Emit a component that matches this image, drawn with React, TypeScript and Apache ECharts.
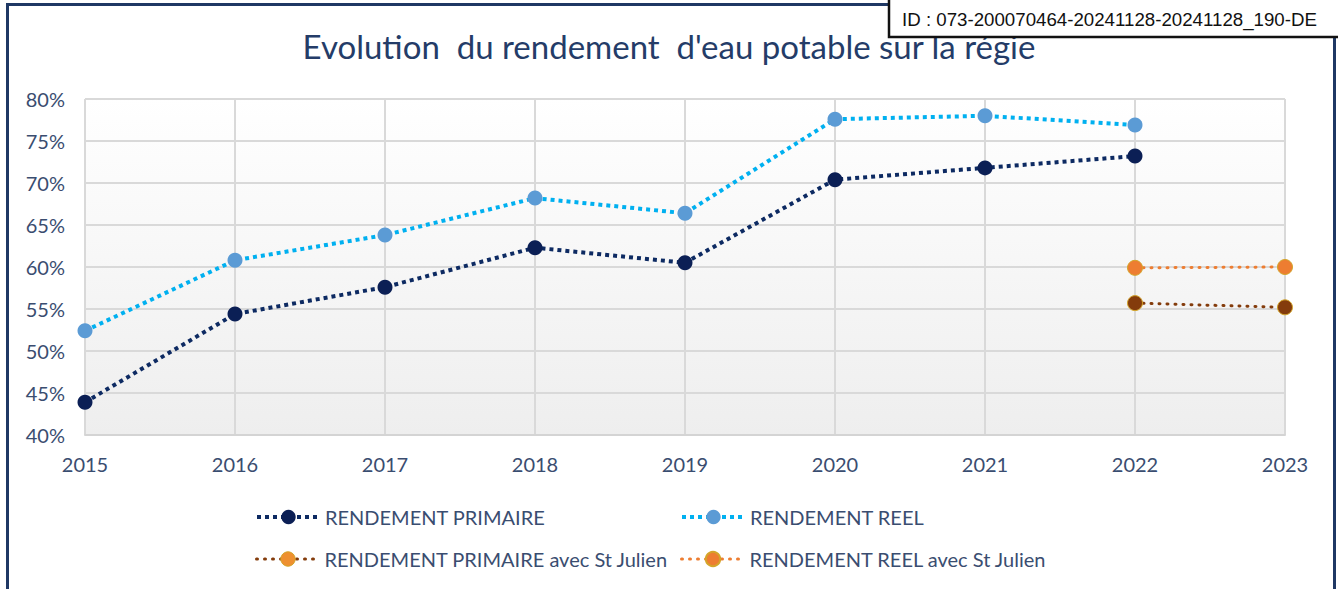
import React, { useEffect, useRef } from "react";
import * as echarts from "echarts";

const years = ["2015", "2016", "2017", "2018", "2019", "2020", "2021", "2022", "2023"];
const rendementPrimaire = [43.9, 54.4, 57.6, 62.3, 60.5, 70.4, 71.8, 73.2, null];
const rendementReel = [52.4, 60.8, 63.8, 68.2, 66.4, 77.6, 78.0, 76.9, null];
const primaireStJulien = [null, null, null, null, null, null, null, 55.7, 55.2];
const reelStJulien = [null, null, null, null, null, null, null, 59.9, 60.0];
const seriesNames = [
  "RENDEMENT PRIMAIRE",
  "RENDEMENT REEL",
  "RENDEMENT PRIMAIRE avec St Julien",
  "RENDEMENT REEL avec St Julien",
];
const titleText = "Evolution  du rendement  d'eau potable sur la régie";
const idText = "ID : 073-200070464-20241128-20241128_190-DE";

const FONT = "Lato, 'Open Sans', sans-serif";
const TXT = "#3a4d70";

export default function App() {
  const ref = useRef<HTMLDivElement>(null);
  useEffect(() => {
    document.body.style.margin = "0";
    const chart = echarts.init(ref.current!, null, { renderer: "svg" });
    const legendBase = {
      itemWidth: 63,
      itemHeight: 18,
      itemGap: 8,
      padding: 0,
      textStyle: { color: TXT, fontSize: 20, fontFamily: FONT },
    };
    const squareDots = { width: 4, type: [4, 4] };
    const roundDots = { width: 3, type: [1, 7], cap: "round" };
    chart.setOption({
      animation: false,
      backgroundColor: "#ffffff",
      title: {
        text: titleText,
        left: "center",
        top: 24,
        textStyle: { color: "#243c68", fontSize: 33, fontWeight: "normal", fontFamily: FONT },
      },
      legend: [
        { ...legendBase, left: 255, top: 507, lineStyle: squareDots, data: [seriesNames[0]] },
        { ...legendBase, left: 680, top: 507, lineStyle: squareDots, data: [seriesNames[1]] },
        {
          ...legendBase,
          left: 255,
          top: 549,
          lineStyle: roundDots,
          data: [{ name: seriesNames[2], itemStyle: { color: "#ee9030", borderColor: "#d4a52a", borderWidth: 1 } }],
        },
        { ...legendBase, left: 680, top: 549, lineStyle: roundDots, data: [seriesNames[3]] },
      ],
      grid: {
        left: 85,
        right: 53,
        top: 99,
        bottom: 154,
        show: true,
        borderWidth: 0,
        backgroundColor: new echarts.graphic.LinearGradient(0, 0, 0, 1, [
          { offset: 0, color: "#ffffff" },
          { offset: 1, color: "#eeeeee" },
        ]),
      },
      xAxis: {
        type: "category",
        data: years,
        boundaryGap: false,
        axisLine: { show: true, lineStyle: { color: "#d4d4d4", width: 2 } },
        axisTick: { show: false },
        axisLabel: { color: TXT, fontSize: 20, fontFamily: FONT, margin: 19 },
        splitLine: { show: true, lineStyle: { color: "#d9d9d9", width: 2 } },
      },
      yAxis: {
        type: "value",
        min: 40,
        max: 80,
        interval: 5,
        axisLine: { show: false },
        axisTick: { show: false },
        axisLabel: { color: TXT, fontSize: 20, fontFamily: FONT, margin: 20, formatter: "{value}%" },
        splitLine: { show: true, lineStyle: { color: "#d9d9d9", width: 2 } },
      },
      series: [
        {
          name: seriesNames[0],
          type: "line",
          data: rendementPrimaire,
          symbol: "circle",
          symbolSize: 15,
          itemStyle: { color: "#0b1f55" },
          lineStyle: { color: "#0d2a62", width: 4, type: [4, 4] },
        },
        {
          name: seriesNames[1],
          type: "line",
          data: rendementReel,
          symbol: "circle",
          symbolSize: 15,
          itemStyle: { color: "#5b9bd5" },
          lineStyle: { color: "#00b0f0", width: 4, type: [4, 4] },
        },
        {
          name: seriesNames[2],
          type: "line",
          data: primaireStJulien,
          symbol: "circle",
          symbolSize: 15,
          itemStyle: { color: "#843c0c", borderColor: "#d4a52a", borderWidth: 1 },
          lineStyle: { color: "#843c0c", width: 3, type: [1, 7], cap: "round" },
        },
        {
          name: seriesNames[3],
          type: "line",
          data: reelStJulien,
          symbol: "circle",
          symbolSize: 15,
          itemStyle: { color: "#ed7d31", borderColor: "#d4a52a", borderWidth: 1 },
          lineStyle: { color: "#ed7d31", width: 3, type: [1, 7], cap: "round" },
        },
      ],
      graphic: [
        {
          type: "rect",
          z: 100,
          shape: { x: 7.5, y: 4.5, width: 1327, height: 600 },
          style: { fill: "none", stroke: "#1f3864", lineWidth: 3 },
        },
        {
          type: "rect",
          z: 110,
          shape: { x: 889, y: -3, width: 460, height: 40 },
          style: { fill: "#ffffff", stroke: "#111111", lineWidth: 2.5 },
        },
        {
          type: "text",
          z: 111,
          x: 902,
          y: 10,
          style: {
            text: idText,
            fill: "#111111",
            fontSize: 18.7,
            fontFamily: "'Liberation Sans', Arial, sans-serif",
          },
        },
      ],
    });
    return () => chart.dispose();
  }, []);
  return <div ref={ref} style={{ width: 1338, height: 589 }} />;
}
